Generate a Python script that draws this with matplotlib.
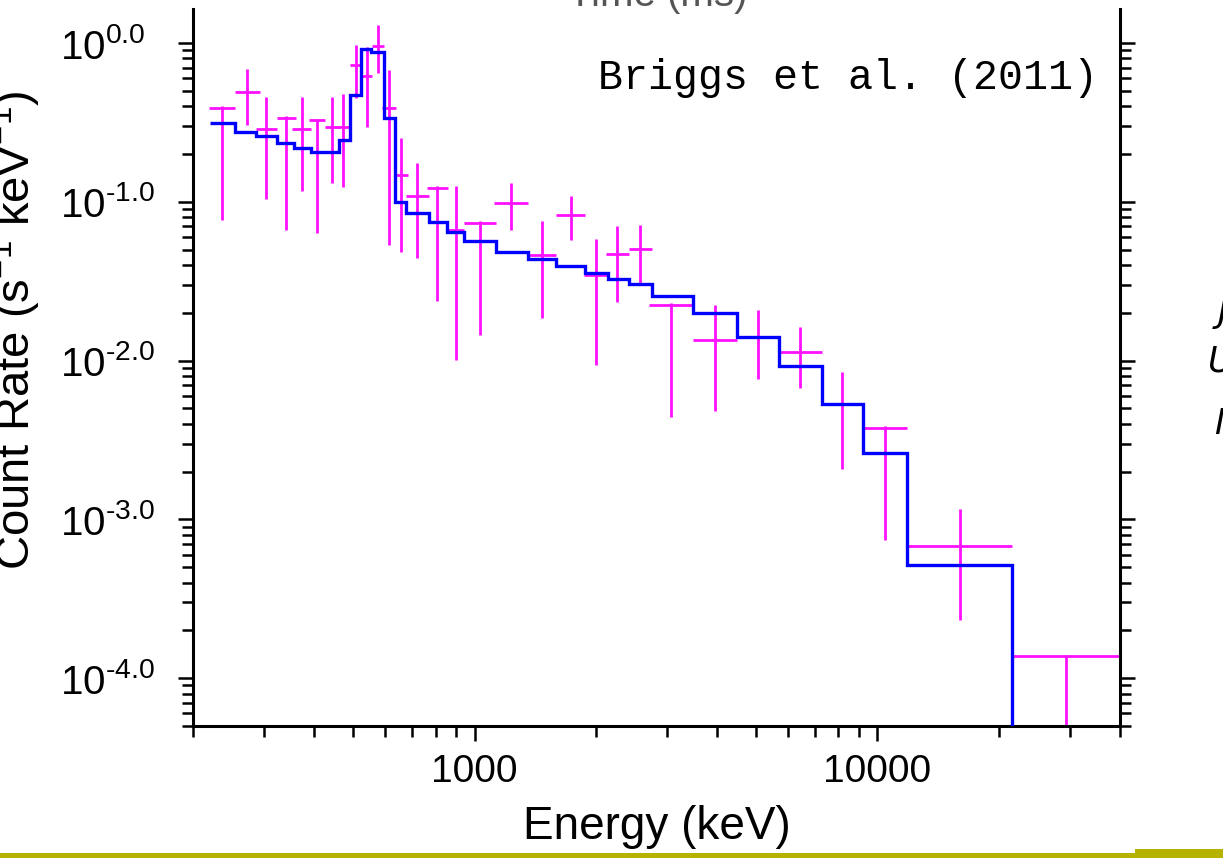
import numpy as np
import matplotlib
matplotlib.use("Agg")
import matplotlib.pyplot as plt
from matplotlib.ticker import LogLocator, FuncFormatter, NullFormatter
from matplotlib.patches import Rectangle

plt.rcParams['font.family'] = ['Liberation Sans', 'DejaVu Sans']
plt.rcParams['mathtext.fontset'] = 'custom'
plt.rcParams['mathtext.rm'] = 'Liberation Sans'
plt.rcParams['mathtext.it'] = 'Liberation Sans:italic'

# --- model (folded spectrum), step histogram ---
model_edges = [220, 254, 286, 323, 357, 392, 461, 491, 523, 554, 596, 634, 676, 770,
               853, 939, 1133, 1359, 1594, 1880, 2142, 2414, 2751, 3493, 4487, 5695,
               7272, 9183, 11860, 21540, 40000]
model_rate = [0.313, 0.275, 0.26, 0.235, 0.218, 0.206, 0.245, 0.47, 0.917, 0.88, 0.34,
              0.1, 0.0846, 0.075, 0.0643, 0.0569, 0.0485, 0.0434, 0.0396, 0.0358, 0.0325,
              0.0304, 0.0255, 0.01985, 0.01415, 0.00925, 0.00533, 0.00263, 0.000516, 3e-5]

# --- measured count rates (bin edges, value, lower / upper error ends) ---
e_lo = [219, 254, 286, 323, 353, 389, 426, 454, 491, 526, 557, 589, 634, 676, 761, 858,
        939, 1120, 1359, 1594, 1868, 2118, 2414, 2705, 3493, 4487, 5695, 7272, 9183,
        11860, 21540]
e_hi = [254, 293, 324, 360, 392, 426, 461, 491, 526, 557, 596, 638, 683, 770, 858, 939,
        1133, 1359, 1594, 1880, 2142, 2414, 2751, 3493, 4487, 5695, 7272, 9183, 11860,
        21540, 40000]
rate = [0.388, 0.49, 0.286, 0.340, 0.286, 0.327, 0.297, 0.296, 0.73, 0.62, 0.957, 0.39,
        0.1476, 0.1088, 0.1216, 0.0664, 0.0739, 0.0987, 0.0462, 0.0826, 0.0346, 0.0469,
        0.0504, 0.0224, 0.01349, 0.01414, 0.01138, 0.00533, 0.00378, 0.000683, 0.000138]
rate_hi = [0.40, 0.683, 0.459, 0.35, 0.459, 0.335, 0.459, 0.477, 0.971, 0.944, 1.298,
           0.676, 0.252, 0.1755, 0.125, 0.1257, 0.076, 0.1313, 0.0757, 0.1088, 0.0583,
           0.0704, 0.0714, 0.0230, 0.0224, 0.0208, 0.0164, 0.00851, 0.0039, 0.001164,
           0.00014]
rate_lo = [0.0768, 0.305, 0.104, 0.0665, 0.117, 0.0636, 0.1313, 0.1239, 0.45, 0.296,
           0.647, 0.0535, 0.0483, 0.0443, 0.0238, 0.01009, 0.01449, 0.0664, 0.0185,
           0.0575, 0.00938, 0.0234, 0.0308, 0.00441, 0.00482, 0.00766, 0.00672, 0.00208,
           0.000742, 0.000233, 1e-5]

fig = plt.figure(figsize=(12.23, 8.58), dpi=100)
ax = fig.add_axes([193 / 1223, 132 / 858, 927 / 1223, 717 / 858])

lo = np.array(e_lo, float)
hi = np.array(e_hi, float)
ctr = np.sqrt(lo * hi)
r = np.array(rate)
ax.errorbar(ctr, r, xerr=[ctr - lo, hi - ctr],
            yerr=[r - np.array(rate_lo), np.array(rate_hi) - r],
            fmt='none', ecolor='#ff11ff', elinewidth=2.0, capsize=0, zorder=2)
ax.stairs(model_rate, model_edges, baseline=None, color='#0000ff', lw=2.4, zorder=3)

ax.set_xscale('log')
ax.set_yscale('log')
ax.set_xlim(200, 40000)
ax.set_ylim(5e-5, 1.64)

ax.spines['top'].set_visible(False)
for s in ('left', 'right', 'bottom'):
    ax.spines[s].set_linewidth(2.2)


def ylab(v, p):
    s = '%.1f' % np.log10(v)
    return r'$\mathregular{10^{%s}}$' % s.replace('-', '\u2010')


ax.yaxis.set_major_locator(LogLocator(base=10, numticks=10))
ax.yaxis.set_minor_locator(LogLocator(base=10, subs=np.arange(2, 10), numticks=20))
ax.yaxis.set_major_formatter(FuncFormatter(ylab))
ax.yaxis.set_minor_formatter(NullFormatter())
ax.xaxis.set_major_locator(LogLocator(base=10, numticks=10))
ax.xaxis.set_minor_locator(LogLocator(base=10, subs=np.arange(2, 10), numticks=20))
ax.xaxis.set_major_formatter(FuncFormatter(lambda v, p: '%d' % v))
ax.xaxis.set_minor_formatter(NullFormatter())

# y labels are left-aligned in the original, so push them out with a big pad
ax.tick_params(axis='y', which='both', direction='out', left=True, right=True,
               labelsize=29, width=1.8)
ax.tick_params(axis='y', which='major', pad=85)
ax.tick_params(axis='x', which='both', direction='out', bottom=True, top=False,
               labelsize=28, width=1.8, pad=9)
ax.tick_params(which='major', length=11)
ax.tick_params(which='minor', length=8)
for t in ax.yaxis.get_major_ticks():
    t.label1.set_horizontalalignment('left')

ax.set_xlabel('Energy (keV)', fontsize=33, labelpad=11)
fig.text(15 / 1223, 1 - 330 / 858, r'Count Rate (s$^{-1}$ keV$^{-1}$)', fontsize=34,
         rotation=90, ha='center', va='center')

fig.text(598 / 1223, 1 - 89 / 858, 'Briggs et al. (2011)', family='Liberation Mono',
         fontsize=30, ha='left', va='baseline')
fig.text(658 / 1223, 1 - 6 / 858, 'Time (ms)', fontsize=29, color='#555555',
         ha='center', va='baseline')

# cut-off slide text on the right
for letter, xp, yp in [('J', 1218, 322), ('U', 1208, 372), ('M', 1214, 434)]:
    fig.text(xp / 1223, 1 - yp / 858, letter, fontsize=25, style='italic',
             family='DejaVu Sans', ha='left', va='baseline')

# slide footer bar
fig.patches.append(Rectangle((0, 0), 1135 / 1223, 5 / 858, transform=fig.transFigure,
                             facecolor='#b5b200', edgecolor='none', zorder=10))
fig.patches.append(Rectangle((1135 / 1223, 0), 88 / 1223, 9 / 858,
                             transform=fig.transFigure, facecolor='#b5b200',
                             edgecolor='none', zorder=10))

fig.savefig('out.png', dpi=100)
